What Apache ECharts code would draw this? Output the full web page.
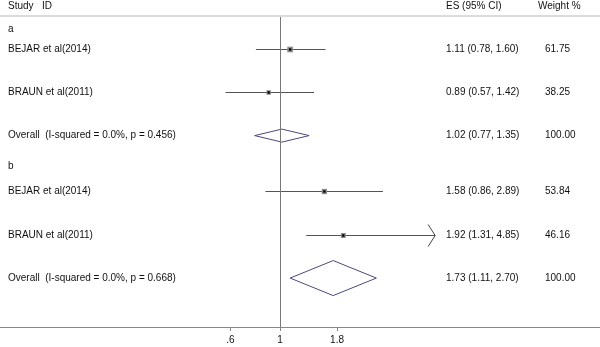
<!DOCTYPE html>
<html>
<head>
<meta charset="utf-8">
<script src="https://cdn.jsdelivr.net/npm/echarts@6/dist/echarts.min.js"></script>
<style>
  html, body { margin: 0; padding: 0; background: #fff; }
  #forest { width: 600px; height: 347px; }
</style>
</head>
<body>
<div id="forest"></div>
<script>
// data
const groupLabels = ['a', 'b'];
const studyNames = ['BEJAR et al(2014)', 'BRAUN et al(2011)', 'BEJAR et al(2014)', 'BRAUN et al(2011)'];
const studyES = [1.11, 0.89, 1.58, 1.92];
const studyLo = [0.78, 0.57, 0.86, 1.31];
const studyHi = [1.60, 1.42, 2.89, 4.85];
const studyWeight = [61.75, 38.25, 53.84, 46.16];
const overallLabels = ['Overall  (I-squared = 0.0%, p = 0.456)', 'Overall  (I-squared = 0.0%, p = 0.668)'];
const overallES = [1.02, 1.73];
const overallLo = [0.77, 1.11];
const overallHi = [1.35, 2.70];
const overallWeight = [100, 100];
const tickValues = [0.6, 1, 1.8];
const tickLabels = ['.6', '1', '1.8'];

// layout (row units on the hidden y axis)
const groupRow = [0.54, 3.70];
const studyRow = [1, 2, 4.28, 5.30];
const overallRow = [3, 6.29];
const diamondHalf = [6.5, 17.5];
const ciClip = 4.8;

const FONT = '"Liberation Sans", Arial, sans-serif';
const TEXT = '#111';
const ln = Math.log;

const xMin = -280 / 97;
const xMax = 320 / 97;

const fmt = (es, lo, hi) => es.toFixed(2) + ' (' + lo.toFixed(2) + ', ' + hi.toFixed(2) + ')';

const studyData = studyES.map((es, i) => [ln(es), ln(studyLo[i]), ln(studyHi[i]), studyRow[i], studyWeight[i]]);
const overallData = overallES.map((es, i) => [ln(es), ln(overallLo[i]), ln(overallHi[i]), overallRow[i], i]);

// text rows: [row, label, es text, weight text]
const textRows = [];
groupLabels.forEach((g, i) => textRows.push([groupRow[i], g, '', '']));
studyNames.forEach((s, i) => textRows.push([studyRow[i], s, fmt(studyES[i], studyLo[i], studyHi[i]), studyWeight[i].toFixed(2)]));
overallLabels.forEach((s, i) => textRows.push([overallRow[i], s, fmt(overallES[i], overallLo[i], overallHi[i]), overallWeight[i].toFixed(2)]));

const chart = echarts.init(document.getElementById('forest'));

const txt = (x, y, s) => ({
  type: 'text',
  style: { x: x, y: y, text: s, fill: TEXT, font: '10px ' + FONT, textVerticalAlign: 'middle' }
});

chart.setOption({
  animation: false,
  grid: { left: 0, right: 0, top: 17, bottom: 20 },
  xAxis: {
    type: 'value',
    min: xMin,
    max: xMax,
    splitLine: { show: false },
    axisLine: { lineStyle: { color: '#888', width: 1 } },
    axisTick: { customValues: tickValues.map(ln), length: 4, lineStyle: { color: '#888' } },
    axisLabel: {
      customValues: tickValues.map(ln),
      margin: 8,
      color: TEXT,
      fontSize: 10,
      fontFamily: FONT,
      formatter: v => {
        let k = 0;
        tickValues.forEach((t, i) => { if (Math.abs(ln(t) - v) < 1e-6) k = i; });
        return tickLabels[k];
      }
    }
  },
  yAxis: { type: 'value', inverse: true, min: 0.261, max: 7.42, show: false },
  graphic: [
    { type: 'rect', shape: { x: 0, y: 15, width: 600, height: 2 }, style: { fill: '#dcdcdc' } },
    txt(8, 6, 'Study   ID'),
    txt(446, 6, 'ES (95% CI)'),
    txt(538, 6, 'Weight %')
  ],
  series: [
    {
      type: 'custom',
      name: 'ref',
      data: [],
      markLine: {
        silent: true,
        symbol: 'none',
        label: { show: false },
        lineStyle: { color: '#777', width: 1, type: 'solid' },
        data: [{ xAxis: 0 }]
      },
      renderItem: () => null
    },
    {
      type: 'custom',
      name: 'studies',
      data: studyData,
      renderItem: (params, api) => {
        const es = api.value(0), lo = api.value(1), hi = api.value(2), row = api.value(3), w = api.value(4);
        const clip = ln(ciClip);
        const p0 = api.coord([lo, row]);
        const p1 = api.coord([Math.min(hi, clip), row]);
        const c = api.coord([es, row]);
        const y = Math.round(p0[1]) + 0.5;
        const side = Math.sqrt(w) * 0.72;
        let xEnd = p1[0];
        if (hi > clip) xEnd += 3;
        const kids = [
          { type: 'line', shape: { x1: p0[0], y1: y, x2: xEnd, y2: y }, style: { stroke: '#555', lineWidth: 1 } },
          { type: 'rect', shape: { x: c[0] - side / 2, y: y - side / 2, width: side, height: side }, style: { fill: '#8a8a8a' } },
          { type: 'rect', shape: { x: c[0] - 1.2, y: y - 1.2, width: 2.4, height: 2.4 }, style: { fill: '#000' } }
        ];
        if (hi > clip) {
          kids.push({
            type: 'polyline',
            shape: { points: [[xEnd - 7, y - 11], [xEnd, y], [xEnd - 7, y + 11]] },
            style: { stroke: '#444', lineWidth: 1, fill: null }
          });
        }
        return { type: 'group', children: kids };
      }
    },
    {
      type: 'custom',
      name: 'overall',
      data: overallData,
      renderItem: (params, api) => {
        const es = api.value(0), lo = api.value(1), hi = api.value(2), row = api.value(3), k = api.value(4);
        const h = diamondHalf[k];
        const l = api.coord([lo, row]), r = api.coord([hi, row]), c = api.coord([es, row]);
        return {
          type: 'polygon',
          shape: { points: [[l[0], c[1]], [c[0], c[1] - h], [r[0], c[1]], [c[0], c[1] + h]] },
          style: { fill: 'none', stroke: '#4a4a78', lineWidth: 1 }
        };
      }
    },
    {
      type: 'custom',
      name: 'text',
      data: textRows,
      renderItem: (params, api) => {
        const d = textRows[params.dataIndex];
        const y = api.coord([0, d[0]])[1];
        return {
          type: 'group',
          children: [txt(8, y, d[1]), txt(446, y, d[2]), txt(545, y, d[3])]
        };
      }
    }
  ]
});
</script>
</body>
</html>
